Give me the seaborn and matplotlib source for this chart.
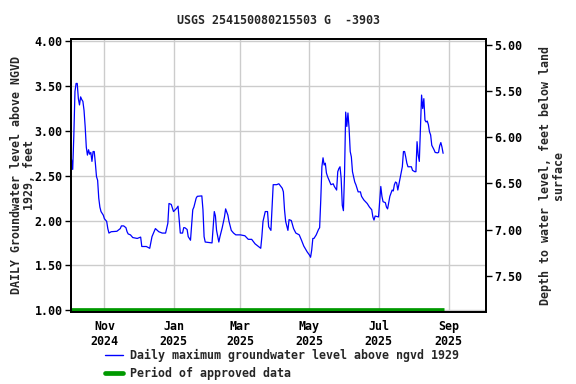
import pandas as pd
import matplotlib
matplotlib.use("Agg")
import matplotlib.pyplot as plt
import matplotlib.dates as mdates
from matplotlib.lines import Line2D
import seaborn as sns

# daily maximum groundwater level, ft above NGVD 1929
dates = [
    "2024-10-03", "2024-10-04", "2024-10-05", "2024-10-06", "2024-10-07", "2024-10-08",
    "2024-10-09", "2024-10-10", "2024-10-11", "2024-10-12", "2024-10-13", "2024-10-14",
    "2024-10-15", "2024-10-16", "2024-10-17", "2024-10-18", "2024-10-19", "2024-10-20",
    "2024-10-21", "2024-10-22", "2024-10-23", "2024-10-24", "2024-10-25", "2024-10-26",
    "2024-10-27", "2024-10-28", "2024-10-29", "2024-10-31", "2024-11-01", "2024-11-03",
    "2024-11-04", "2024-11-05", "2024-11-07", "2024-11-12", "2024-11-15", "2024-11-16",
    "2024-11-18", "2024-11-20", "2024-11-21", "2024-11-22", "2024-11-24", "2024-11-26",
    "2024-11-30", "2024-12-03", "2024-12-04", "2024-12-08", "2024-12-11", "2024-12-13",
    "2024-12-16", "2024-12-19", "2024-12-22", "2024-12-25", "2024-12-27", "2024-12-28",
    "2024-12-30", "2025-01-01", "2025-01-04", "2025-01-05", "2025-01-06", "2025-01-07",
    "2025-01-09", "2025-01-10", "2025-01-11", "2025-01-13", "2025-01-14", "2025-01-16",
    "2025-01-18", "2025-01-19", "2025-01-21", "2025-01-22", "2025-01-26", "2025-01-27",
    "2025-01-28", "2025-01-29", "2025-02-04", "2025-02-05", "2025-02-06", "2025-02-07",
    "2025-02-08", "2025-02-10", "2025-02-11", "2025-02-13", "2025-02-15", "2025-02-16",
    "2025-02-18", "2025-02-19", "2025-02-21", "2025-02-23", "2025-02-25", "2025-03-01",
    "2025-03-05", "2025-03-08", "2025-03-11", "2025-03-14", "2025-03-15", "2025-03-19",
    "2025-03-20", "2025-03-21", "2025-03-23", "2025-03-25", "2025-03-26", "2025-03-28",
    "2025-03-29", "2025-03-30", "2025-04-02", "2025-04-04", "2025-04-07", "2025-04-08",
    "2025-04-09", "2025-04-10", "2025-04-12", "2025-04-13", "2025-04-15", "2025-04-17",
    "2025-04-19", "2025-04-22", "2025-04-24", "2025-04-26", "2025-04-29", "2025-05-01",
    "2025-05-02", "2025-05-03", "2025-05-04", "2025-05-05", "2025-05-07", "2025-05-09",
    "2025-05-10", "2025-05-11", "2025-05-12", "2025-05-13", "2025-05-14", "2025-05-15",
    "2025-05-16", "2025-05-17", "2025-05-19", "2025-05-20", "2025-05-22", "2025-05-23",
    "2025-05-25", "2025-05-26", "2025-05-27", "2025-05-28", "2025-05-29", "2025-05-30",
    "2025-05-31", "2025-06-01", "2025-06-02", "2025-06-03", "2025-06-04", "2025-06-05",
    "2025-06-06", "2025-06-07", "2025-06-08", "2025-06-10", "2025-06-11", "2025-06-13",
    "2025-06-15", "2025-06-16", "2025-06-18", "2025-06-21", "2025-06-23", "2025-06-25",
    "2025-06-26", "2025-06-27", "2025-06-28", "2025-07-01", "2025-07-02", "2025-07-03",
    "2025-07-04", "2025-07-05", "2025-07-07", "2025-07-08", "2025-07-09", "2025-07-10",
    "2025-07-11", "2025-07-13", "2025-07-14", "2025-07-15", "2025-07-16", "2025-07-17",
    "2025-07-18", "2025-07-20", "2025-07-21", "2025-07-22", "2025-07-23", "2025-07-24",
    "2025-07-25", "2025-07-26", "2025-07-27", "2025-07-30", "2025-07-31", "2025-08-02",
    "2025-08-03", "2025-08-04", "2025-08-05", "2025-08-06", "2025-08-07", "2025-08-08",
    "2025-08-09", "2025-08-10", "2025-08-11", "2025-08-12", "2025-08-13", "2025-08-14",
    "2025-08-15", "2025-08-16", "2025-08-17", "2025-08-19", "2025-08-20", "2025-08-22",
    "2025-08-23", "2025-08-24", "2025-08-25", "2025-08-26", "2025-08-27",
]
levels = [
    2.68, 2.57, 2.95, 3.44, 3.53, 3.53,
    3.36, 3.29, 3.38, 3.35, 3.33, 3.23,
    3.05, 2.82, 2.73, 2.79, 2.74, 2.76,
    2.66, 2.77, 2.77, 2.64, 2.49, 2.45,
    2.25, 2.15, 2.10, 2.06, 2.02, 1.99,
    1.91, 1.86, 1.875, 1.88, 1.91, 1.94,
    1.94, 1.92, 1.875, 1.85, 1.84, 1.81,
    1.80, 1.815, 1.71, 1.71, 1.69, 1.82,
    1.91, 1.875, 1.86, 1.86, 1.97, 2.19,
    2.18, 2.10, 2.14, 2.16, 2.005, 1.86,
    1.86, 1.92, 1.92, 1.90, 1.82, 1.78,
    2.12, 2.15, 2.25, 2.27, 2.275, 2.12,
    1.82, 1.76, 1.75, 1.92, 2.10, 2.05,
    1.89, 1.76, 1.82, 1.92, 2.04, 2.13,
    2.06, 1.99, 1.89, 1.86, 1.84, 1.84,
    1.83, 1.79, 1.79, 1.74, 1.73, 1.69,
    1.82, 1.99, 2.10, 2.10, 1.93, 1.89,
    2.14, 2.40, 2.40, 2.41, 2.36, 2.32,
    2.12, 1.99, 1.89, 2.01, 2.00, 1.91,
    1.86, 1.84, 1.78, 1.715, 1.65, 1.615,
    1.59, 1.67, 1.80, 1.80, 1.84, 1.90,
    1.92, 2.23, 2.60, 2.70, 2.62, 2.64,
    2.53, 2.49, 2.43, 2.40, 2.41, 2.38,
    2.34, 2.545, 2.58, 2.60, 2.47, 2.17,
    2.11, 2.53, 3.21, 3.05, 3.20, 3.03,
    2.77, 2.71, 2.545, 2.43, 2.40, 2.32,
    2.32, 2.27, 2.23, 2.19, 2.15, 2.12,
    2.04, 2.005, 2.05, 2.04, 2.21, 2.38,
    2.27, 2.21, 2.20, 2.15, 2.13, 2.20,
    2.27, 2.34, 2.33, 2.40, 2.43, 2.42,
    2.34, 2.47, 2.53, 2.60, 2.77, 2.77,
    2.71, 2.64, 2.60, 2.60, 2.56, 2.545,
    2.545, 2.88, 2.73, 2.66, 3.03, 3.40,
    3.25, 3.36, 3.12, 3.10, 3.11, 3.07,
    2.99, 2.955, 2.84, 2.79, 2.76, 2.755,
    2.76, 2.835, 2.87, 2.82, 2.75,
]

approved_dates = ["2024-10-02", "2025-08-28"]
approved_level = [1.0, 1.0]

left_ticks = [1.00, 1.50, 2.00, 2.50, 3.00, 3.50, 4.00]
right_ticks = [5.00, 5.50, 6.00, 6.50, 7.00, 7.50]
month_ticks = ["2024-11-01", "2025-01-01", "2025-03-01", "2025-05-01", "2025-07-01", "2025-09-01"]

df = pd.DataFrame({"date": pd.to_datetime(dates), "level": levels})
appr = pd.DataFrame({"date": pd.to_datetime(approved_dates), "level": approved_level})

sns.set_theme(style="white")
plt.rcParams["font.family"] = ["DejaVu Sans Mono"]
plt.rcParams["font.weight"] = "bold"
fs = 8.4

fig = plt.figure(figsize=(5.76, 3.84), dpi=100)
ax = fig.add_axes([71 / 576, 1 - 312 / 384, 415 / 576, 273 / 384])

ax.grid(True, color="#cccccc", linewidth=1.0)
ax.set_axisbelow(True)

sns.lineplot(data=df, x="date", y="level", ax=ax, color="#0000ff", linewidth=0.9)
ax.plot(appr["date"], appr["level"], color="#009900", linewidth=3.4, solid_capstyle="butt")

ax.set_xlim(pd.Timestamp("2024-10-02 12:00"), pd.Timestamp("2025-10-03 21:00"))
ax.set_ylim(0.979, 4.026)
ax.set_yticks(left_ticks)
ax.set_yticklabels([f"{v:.2f}" for v in left_ticks], fontsize=fs, fontweight="bold")
ax.set_xticks(pd.to_datetime(month_ticks))
ax.xaxis.set_major_formatter(mdates.DateFormatter("%b\n%Y"))
for lab in ax.get_xticklabels():
    lab.set_fontsize(fs)
    lab.set_fontweight("bold")
ax.set_xlabel("")
ax.set_ylabel("DAILY Groundwater level above NGVD\n1929, feet", fontsize=fs,
              fontweight="bold", labelpad=-1, linespacing=1.05)
ax.tick_params(axis="both", direction="out", length=4, width=1, colors="black", pad=2)
for s in ax.spines.values():
    s.set_color("black")
    s.set_linewidth(1.3)

ax2 = ax.twinx()
ax2.set_ylim(7.893, 4.935)
ax2.set_yticks(right_ticks)
ax2.set_yticklabels([f"{v:.2f}" for v in right_ticks], fontsize=fs, fontweight="bold")
ax2.set_ylabel("Depth to water level, feet below land\nsurface", fontsize=fs,
               fontweight="bold", labelpad=12, linespacing=1.05)
ax2.tick_params(axis="y", direction="out", length=4, width=1, colors="black", pad=2)
ax2.grid(False)
for s in ax2.spines.values():
    s.set_color("black")
    s.set_linewidth(1.3)

ax.set_title("USGS 254150080215503 G  -3903", fontsize=fs, fontweight="bold", pad=11)

handles = [
    Line2D([0], [0], color="#0000ff", linewidth=1.0),
    Line2D([0], [0], color="#009900", linewidth=3.4),
]
fig.legend(handles, ["Daily maximum groundwater level above ngvd 1929",
                     "Period of approved data"],
           loc="upper left", bbox_to_anchor=(105 / 576, 1 - 349 / 384),
           frameon=False, prop={"size": fs, "weight": "bold"},
           handlelength=1.5, handletextpad=0.6, borderpad=0, borderaxespad=0,
           labelspacing=0.45)

fig.savefig("out.png", dpi=100)
